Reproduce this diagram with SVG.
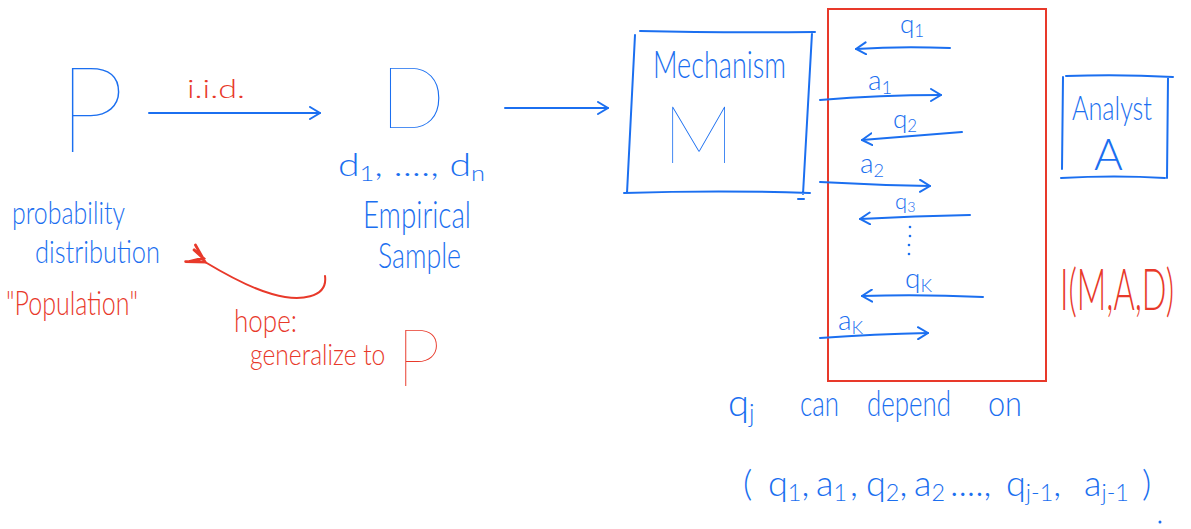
<svg xmlns="http://www.w3.org/2000/svg" width="1191" height="529" viewBox="0 0 1191 529">
<style>
  .b{fill:#1b6ff0}
  .r{fill:#e8392a}
  text{font-family:Lato,Roboto,"Open Sans","DejaVu Sans",sans-serif;font-weight:300}
  .big{font-weight:100}
  .ln{fill:none;stroke:#1b6ff0;stroke-width:2;stroke-linecap:round;stroke-linejoin:round}
  .lr{fill:none;stroke:#e8392a;stroke-width:2;stroke-linecap:round;stroke-linejoin:round}
  .sub{font-size:65%;baseline-shift:-22%}
  .l2{font-size:36px}
</style>
<defs>
  <marker id="ah" viewBox="0 0 12 14" markerWidth="12" markerHeight="14" refX="11" refY="7" orient="auto" markerUnits="userSpaceOnUse">
    <path d="M1,1 L11,7 L1,13" fill="none" stroke="#1b6ff0" stroke-width="2" stroke-linecap="round"/>
  </marker>
  <marker id="ahr" viewBox="0 0 20 20" markerWidth="24" markerHeight="24" refX="3" refY="10" orient="auto" markerUnits="userSpaceOnUse">
    <path d="M17,2 L3,10 L17,18 M14,4 L6,12 L16,14" fill="none" stroke="#e8392a" stroke-width="2.4" stroke-linecap="round"/>
  </marker>
</defs>

<g id="node-P">
  <text class="b big" x="58" y="152" font-size="120">P</text>
  <text class="b" x="12" y="224" font-size="32" textLength="113" lengthAdjust="spacingAndGlyphs">probability</text>
  <text class="b" x="35" y="263" font-size="31" textLength="125" lengthAdjust="spacingAndGlyphs">distribution</text>
  <text class="r" x="6" y="315" font-size="34" textLength="132" lengthAdjust="spacingAndGlyphs">"Population"</text>
</g>

<g id="node-D">
  <text class="b big" x="380" y="128" font-size="86">D</text>
  <text class="b" x="338" y="176" font-size="32" textLength="147" lengthAdjust="spacingAndGlyphs">d<tspan class="sub">1</tspan>, ...., d<tspan class="sub">n</tspan></text>
  <text class="b" x="363" y="228" font-size="37" textLength="108" lengthAdjust="spacingAndGlyphs">Empirical</text>
  <text class="b" x="378" y="268" font-size="35" textLength="83" lengthAdjust="spacingAndGlyphs">Sample</text>
</g>

<g id="note-hope">
  <text class="r" x="234" y="332" font-size="31" textLength="63" lengthAdjust="spacingAndGlyphs">hope:</text>
  <text class="r" transform="translate(250,365) scale(0.85,1)" font-size="29">generalize to</text>
  <text class="r big" x="396" y="386" font-size="80">P</text>
</g>

<g id="node-mechanism">
  <path class="ln" d="M640,31 Q720,33 815,32 M812,33 L803,194 M635,35 L627,193 M624,193 Q720,190 810,193 M798,199 L804,199"/>
  <text class="b" x="653" y="78" font-size="38" textLength="133" lengthAdjust="spacingAndGlyphs">Mechanism</text>
  <text class="b big" x="663" y="163" font-size="80">M</text>
</g>

<g id="interaction">
  <rect x="828" y="9" width="218" height="372" fill="none" stroke="#e8392a" stroke-width="2"/>
  <text class="b" x="900" y="33" font-size="26">q<tspan class="sub">1</tspan></text>
  <text class="b" x="868" y="90" font-size="28">a<tspan class="sub">1</tspan></text>
  <text class="b" x="893" y="128" font-size="26">q<tspan class="sub">2</tspan></text>
  <text class="b" x="860" y="173" font-size="28">a<tspan class="sub">2</tspan></text>
  <text class="b" x="895" y="209" font-size="22">q<tspan class="sub">3</tspan></text>
  <circle class="b" cx="910" cy="227" r="1.3"/>
  <circle class="b" cx="910" cy="236" r="1.3"/>
  <circle class="b" cx="909" cy="245" r="1.3"/>
  <circle class="b" cx="909" cy="254" r="1.3"/>
  <text class="b" x="905" y="288" font-size="28">q<tspan class="sub">K</tspan></text>
  <text class="b" x="838" y="330" font-size="28">a<tspan class="sub">K</tspan></text>
</g>

<g id="node-analyst">
  <path class="ln" d="M1066,76 Q1120,74 1173,77 M1168,78 L1167,178 M1063,77 L1062,169 M1061,178 Q1115,175 1165,178"/>
  <text class="b" x="1072" y="120" font-size="34" textLength="80" lengthAdjust="spacingAndGlyphs">Analyst</text>
  <text class="b" x="1094" y="170" font-size="44">A</text>
</g>

<g id="label-I">
  <text class="r" transform="translate(1060,310) scale(0.56,1)" font-size="58">I(M,A,D)</text>
</g>

<g id="note-depend">
  <text class="b" x="728" y="416" font-size="38">q<tspan class="sub">j</tspan></text>
  <text class="b" x="800" y="416" font-size="36" textLength="39" lengthAdjust="spacingAndGlyphs">can</text>
  <text class="b" x="867" y="416" font-size="36" textLength="84" lengthAdjust="spacingAndGlyphs">depend</text>
  <text class="b" x="988" y="416" font-size="36" textLength="34" lengthAdjust="spacingAndGlyphs">on</text>
  <text class="b l2" x="743" y="496">(</text>
  <text class="b l2" x="768" y="496">q<tspan class="sub">1</tspan>,</text>
  <text class="b l2" x="816" y="496">a<tspan class="sub">1</tspan></text>
  <text class="b l2" x="850" y="496">,</text>
  <text class="b l2" x="866" y="496">q<tspan class="sub">2</tspan>,</text>
  <text class="b l2" x="914" y="496">a<tspan class="sub">2</tspan></text>
  <text class="b l2" x="950" y="496">....,</text>
  <text class="b l2" x="1006" y="496">q<tspan class="sub">j-1</tspan>,</text>
  <text class="b l2" x="1084" y="496">a<tspan class="sub">j-1</tspan></text>
  <text class="b l2" x="1142" y="496">)</text>
  <circle class="b" cx="1160" cy="522" r="1.5"/>
</g>

<g id="connectors">
  <path class="ln" d="M149,113 L320,113" marker-end="url(#ah)"/>
  <text class="r" x="187" y="98" font-size="26" textLength="58" lengthAdjust="spacingAndGlyphs">i.i.d.</text>
  <path class="ln" d="M505,108 L608,108" marker-end="url(#ah)"/>
  <path class="lr" d="M325,276 C328,298 300,302 272,294 C250,288 225,274 205,262" marker-end="url(#ahr)"/>
  <path class="ln" d="M950,48 Q900,46 856,49" marker-end="url(#ah)"/>
  <path class="ln" d="M820,100 Q880,95 941,95" marker-end="url(#ah)"/>
  <path class="ln" d="M962,132 Q910,136 862,140" marker-end="url(#ah)"/>
  <path class="ln" d="M820,182 Q875,185 930,186" marker-end="url(#ah)"/>
  <path class="ln" d="M970,215 Q915,216 860,219" marker-end="url(#ah)"/>
  <path class="ln" d="M983,297 Q920,294 862,296" marker-end="url(#ah)"/>
  <path class="ln" d="M820,338 Q875,334 928,333" marker-end="url(#ah)"/>
</g>
</svg>
